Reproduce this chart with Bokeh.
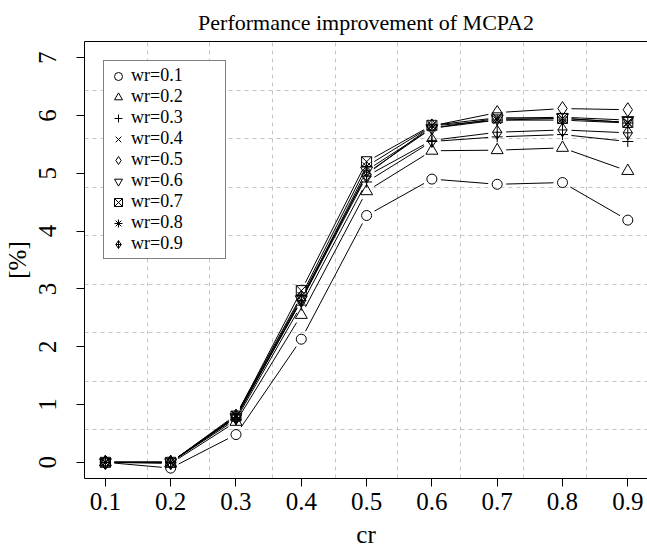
import math
from bokeh.plotting import figure
from bokeh.models import (Range1d, FixedTicker, Legend, LegendItem, LinearAxis)
from bokeh.embed import file_html
from bokeh.resources import INLINE

# ---------------- data ----------------
cr = [0.1, 0.2, 0.3, 0.4, 0.5, 0.6, 0.7, 0.8, 0.9]
wr_labels = ["wr=0.1", "wr=0.2", "wr=0.3", "wr=0.4", "wr=0.5",
             "wr=0.6", "wr=0.7", "wr=0.8", "wr=0.9"]
wr01 = [0.0, -0.10, 0.48, 2.13, 4.27, 4.90, 4.81, 4.84, 4.19]
wr02 = [0.0, -0.02, 0.70, 2.55, 4.69, 5.39, 5.40, 5.44, 5.04]
wr03 = [0.0, 0.00, 0.74, 2.72, 4.85, 5.55, 5.63, 5.67, 5.55]
wr04 = [0.0, 0.00, 0.78, 2.80, 5.00, 5.78, 5.92, 5.95, 5.88]
wr05 = [0.0, 0.00, 0.80, 2.85, 4.98, 5.82, 6.05, 6.12, 6.10]
wr06 = [0.0, 0.00, 0.78, 2.82, 5.05, 5.78, 5.95, 5.97, 5.92]
wr07 = [0.0, 0.00, 0.80, 2.97, 5.20, 5.83, 5.96, 5.95, 5.88]
wr08 = [0.0, 0.00, 0.82, 2.88, 5.12, 5.82, 5.92, 5.92, 5.87]
wr09 = [0.0, 0.00, 0.77, 2.80, 4.95, 5.57, 5.71, 5.75, 5.70]
series = [wr01, wr02, wr03, wr04, wr05, wr06, wr07, wr08, wr09]
x_ticks = [0.1, 0.2, 0.3, 0.4, 0.5, 0.6, 0.7, 0.8, 0.9]
y_ticks = [0, 1, 2, 3, 4, 5, 6, 7]

# ---------------- style ----------------
FONT = "Liberation Serif"
markers = ["circle", "triangle", "cross", "x", "diamond",
           "inverted_triangle", "square_x", "asterisk", "diamond_cross"]
msizes = [10, 12, 11, 9, 14, 12, 10, 11, 14]

W, H = 647, 550
LEFT, TOP, BOTTOM = 84, 40, 73
FW, FH = W - LEFT, H - TOP - BOTTOM

# R-style usr extents (4% padding); x is cropped at the right like the reference
rx0, rx1 = 0.1 - 0.032, 0.9 + 0.032
ry0, ry1 = 0.0 - 0.28, 7.0 + 0.28
px_per_x = 653.0
x_end = rx0 + FW / px_per_x

p = figure(width=W, height=H, output_backend="svg", toolbar_location=None,
           x_range=Range1d(rx0, x_end), y_range=Range1d(ry0, ry1),
           min_border_left=LEFT, min_border_right=0,
           min_border_top=TOP, min_border_bottom=BOTTOM,
           frame_width=FW, frame_height=FH)
p.outline_line_color = None
p.background_fill_color = "white"
p.border_fill_color = "white"

# title
p.title.text = "Performance improvement of MCPA2"
p.title.align = "center"
p.title.text_font = FONT
p.title.text_font_size = "22px"
p.title.text_font_style = "normal"
p.title.text_color = "black"
p.title.standoff = 14
p.title.text_line_height = 0.7

# grid: R grid() dividing usr into 9 cells
gx = [rx0 + k * (rx1 - rx0) / 9 for k in range(1, 9)]
gy = [ry0 + k * (ry1 - ry0) / 9 for k in range(1, 9)]
p.xgrid.ticker = FixedTicker(ticks=gx)
p.ygrid.ticker = FixedTicker(ticks=gy)
for g in (p.xgrid[0], p.ygrid[0]):
    g.grid_line_color = "#c4c4c4"
    g.grid_line_dash = "4 4"
    g.grid_line_width = 1

# axes
p.xaxis.ticker = FixedTicker(ticks=x_ticks)
p.yaxis.ticker = FixedTicker(ticks=y_ticks)
p.xaxis.major_label_overrides = {t: f"{t:.1f}" for t in x_ticks}
for ax in (p.xaxis[0], p.yaxis[0]):
    ax.axis_line_color = "black"
    ax.major_tick_line_color = "black"
    ax.major_tick_out = 8
    ax.major_tick_in = 0
    ax.minor_tick_line_color = None
    ax.major_label_text_font = FONT
    ax.major_label_text_font_size = "25px"
    ax.major_label_text_color = "black"
    ax.axis_label_text_font = FONT
    ax.axis_label_text_font_size = "25px"
    ax.axis_label_text_font_style = "normal"
    ax.axis_label_text_color = "black"
p.xaxis.axis_label = "cr"
p.yaxis.axis_label = "[%]"
p.yaxis.major_label_orientation = "vertical"
p.xaxis.major_label_standoff = 6
p.yaxis.major_label_standoff = 20
p.xaxis.axis_label_standoff = 8
p.yaxis.axis_label_standoff = 6

top_axis = LinearAxis(ticker=FixedTicker(ticks=[]), axis_line_color="black",
                      major_tick_line_color=None, minor_tick_line_color=None,
                      major_label_text_alpha=0)
p.add_layout(top_axis, "above")

# lines with gaps around points (R type="b")
sx = FW / (x_end - rx0)
sy = FH / (ry1 - ry0)
GAP = 9.0
items = []
for vals, mk, ms, lab in zip(series, markers, msizes, wr_labels):
    x0s, y0s, x1s, y1s = [], [], [], []
    for i in range(len(cr) - 1):
        dxp = (cr[i + 1] - cr[i]) * sx
        dyp = (vals[i + 1] - vals[i]) * sy
        L = math.hypot(dxp, dyp)
        if L <= 2 * GAP:
            continue
        f = GAP / L
        ddx = cr[i + 1] - cr[i]
        ddy = vals[i + 1] - vals[i]
        x0s.append(cr[i] + f * ddx)
        y0s.append(vals[i] + f * ddy)
        x1s.append(cr[i + 1] - f * ddx)
        y1s.append(vals[i + 1] - f * ddy)
    p.segment(x0s, y0s, x1s, y1s, line_color="black", line_width=1)
    r = p.scatter(cr, vals, marker=mk, size=ms, line_color="black",
                  fill_color=None, line_width=1)
    items.append(LegendItem(label=lab, renderers=[r]))

legend = Legend(items=items, location="top_left", margin=19,
                border_line_color="black", border_line_width=1,
                background_fill_color="white", background_fill_alpha=1,
                label_text_font=FONT, label_text_font_size="18px",
                label_text_color="black",
                glyph_width=20, glyph_height=20, label_height=20,
                label_width=90,
                label_standoff=3, spacing=0, padding=4)
p.add_layout(legend, "center")

open("out.html", "w").write(file_html(p, INLINE))
